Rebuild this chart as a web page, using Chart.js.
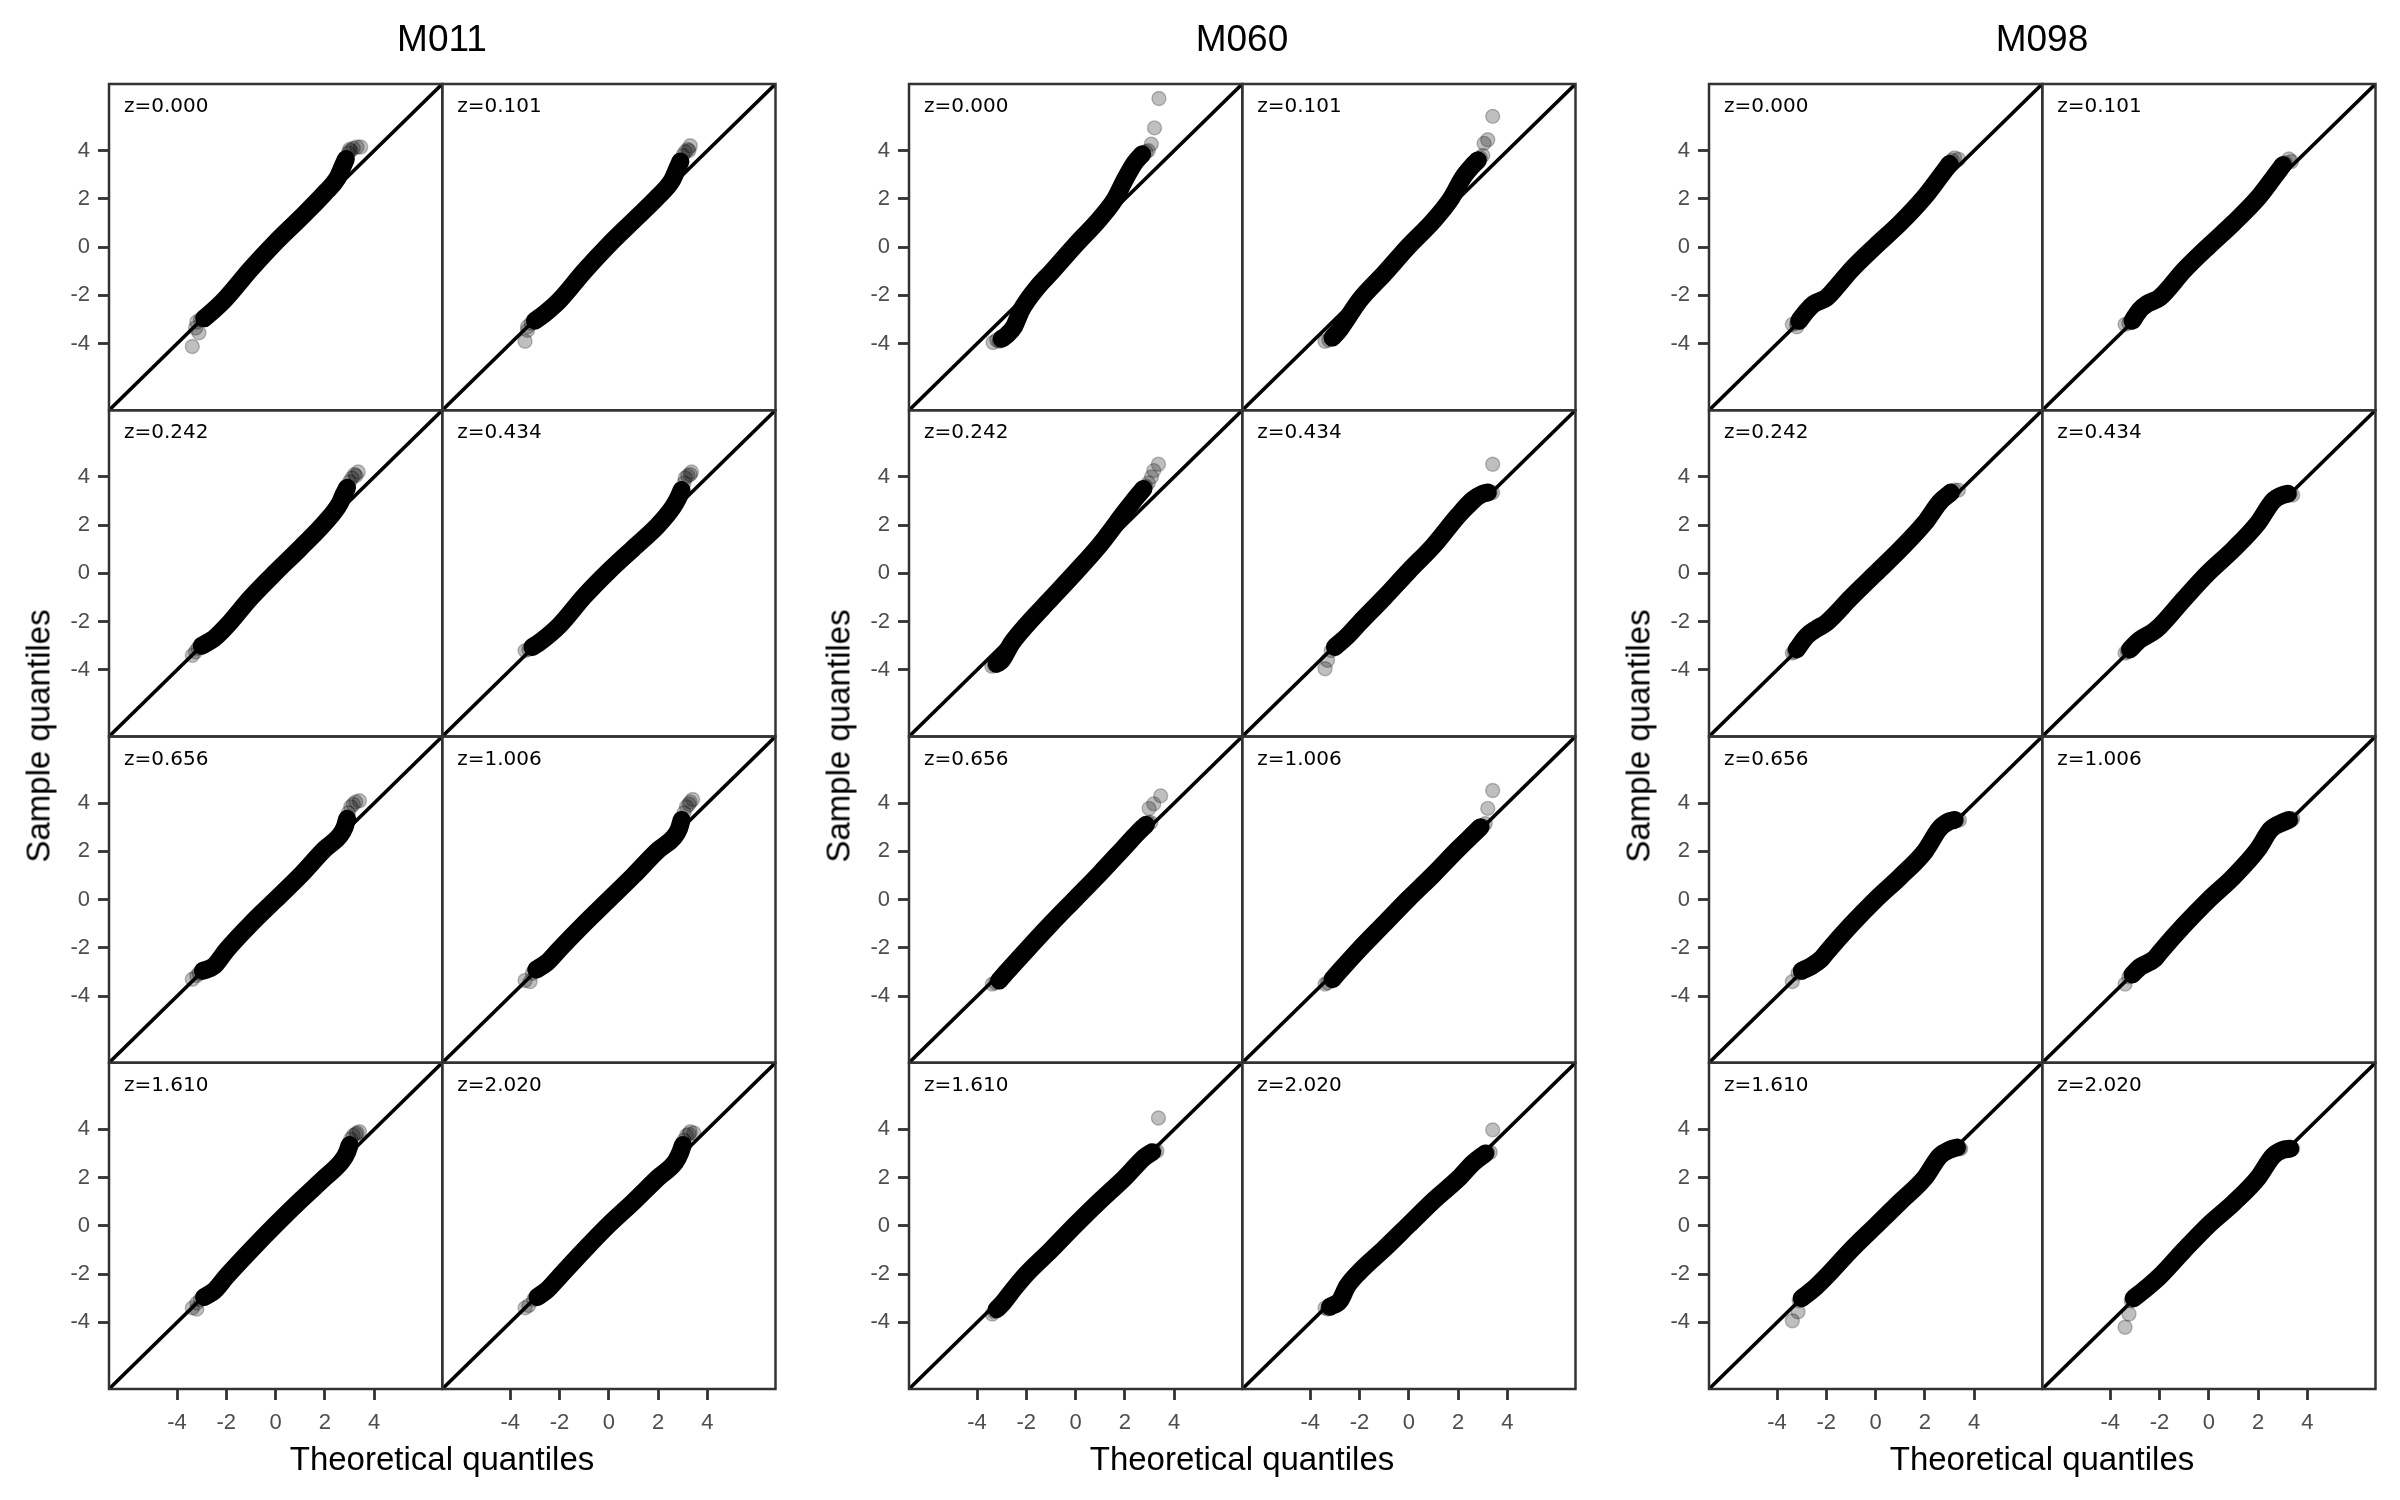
<!DOCTYPE html>
<html>
<head>
<meta charset="utf-8">
<script src="https://cdn.jsdelivr.net/npm/chart.js@4.4.1/dist/chart.umd.min.js"></script>
<style>
html, body { margin: 0; padding: 0; background: #ffffff; }
#wrap { position: relative; width: 2400px; height: 1500px; overflow: hidden; background: #ffffff; }
#wrap canvas { position: absolute; top: 0; }
.txt { position: absolute; white-space: nowrap; color: #000; line-height: 1; font-family: 'Liberation Sans', Arial, sans-serif; transform: translate(-50%, -50%); }
.rot { transform: translate(-50%, -50%) rotate(-90deg); }
</style>
</head>
<body>
<div id="wrap"></div>
<script>
// ---------------- data ----------------
const groupNames = ['M011', 'M060', 'M098'];
const zLabels = ['z=0.000', 'z=0.101', 'z=0.242', 'z=0.434', 'z=0.656', 'z=1.006', 'z=1.610', 'z=2.020'];
const tickValues = [-4, -2, 0, 2, 4];
const axisLimits = [-6.76, 6.76];
const refLine = [-6.76, 6.76];          // reference line y = x, end points
const xTitle = 'Theoretical quantiles';
const yTitle = 'Sample quantiles';

// dense part of each QQ cloud: [theoretical, sample] read along the middle of the band
const M011_body = [
  [[-2.9,-2.95],[-2.5,-2.6],[-2,-2.1],[-1,-0.9],[0,0.2],[1,1.2],[2,2.25],[2.5,2.85],[2.7,3.3],[2.85,3.65]],
  [[-3.0,-3.05],[-2.6,-2.75],[-2,-2.2],[-1,-1.0],[0,0.1],[1,1.1],[2,2.1],[2.55,2.75],[2.75,3.2],[2.9,3.55]],
  [[-3.0,-3.0],[-2.5,-2.7],[-2,-2.2],[-1,-1.0],[0,0.05],[1,1.05],[2,2.1],[2.6,2.9],[2.75,3.25],[2.9,3.55]],
  [[-3.1,-3.05],[-2.8,-2.85],[-2,-2.15],[-1,-0.95],[0,0.1],[1,1.05],[2,2.0],[2.6,2.75],[2.8,3.1],[2.95,3.45]],
  [[-2.95,-2.95],[-2.5,-2.75],[-2,-2.1],[-1,-1.0],[0,0.0],[1,1.0],[2,2.1],[2.6,2.65],[2.8,3.0],[2.9,3.35]],
  [[-2.95,-2.9],[-2.5,-2.6],[-2,-2.05],[-1,-1.0],[0,0.0],[1,1.0],[2,2.05],[2.65,2.6],[2.85,2.95],[2.95,3.3]],
  [[-2.9,-2.95],[-2.5,-2.7],[-2,-2.1],[-1,-1.0],[0,0.05],[1,1.05],[2,2.0],[2.7,2.7],[2.9,3.05],[3.0,3.35]],
  [[-2.9,-2.95],[-2.5,-2.65],[-2,-2.1],[-1,-1.0],[0,0.05],[1,1.0],[2,2.0],[2.7,2.65],[2.9,3.05],[3.0,3.35]]
];
const M060_body = [
  [[-3.0,-3.8],[-2.8,-3.65],[-2.5,-3.3],[-2.2,-2.6],[-1.5,-1.6],[-1,-1.05],[0,0.1],[1,1.2],[1.6,2.0],[2.0,2.8],[2.4,3.5],[2.7,3.85]],
  [[-3.1,-3.75],[-2.8,-3.4],[-2.5,-2.95],[-2,-2.2],[-1,-1.1],[0,0.05],[1,1.1],[1.7,2.0],[2.2,2.9],[2.6,3.4],[2.8,3.6]],
  [[-3.2,-3.75],[-3.0,-3.6],[-2.6,-2.9],[-2,-2.15],[-1,-1.05],[0,0.05],[1,1.2],[2,2.55],[2.5,3.2],[2.75,3.5]],
  [[-3.0,-3.05],[-2.5,-2.6],[-2,-2.05],[-1,-1.0],[0,0.1],[1,1.15],[2,2.4],[2.6,3.05],[3.0,3.3],[3.2,3.35]],
  [[-3.1,-3.35],[-2.8,-3.0],[-2,-2.1],[-1,-1.0],[0,0.05],[1,1.1],[2,2.2],[2.5,2.75],[2.85,3.1]],
  [[-3.1,-3.3],[-2.8,-2.95],[-2,-2.05],[-1,-1.0],[0,0.05],[1,1.05],[2,2.1],[2.5,2.6],[2.9,3.0]],
  [[-3.2,-3.45],[-3.0,-3.25],[-2.5,-2.6],[-2,-2.0],[-1,-1.0],[0,0.05],[1,1.05],[2,2.0],[2.8,2.85],[3.1,3.05]],
  [[-3.2,-3.35],[-2.8,-3.1],[-2.5,-2.5],[-2,-1.9],[-1,-0.95],[0,0.05],[1,1.05],[2,1.95],[2.6,2.6],[3.1,3.0]]
];
const M098_body = [
  [[-3.1,-3.05],[-2.8,-2.65],[-2.5,-2.35],[-2,-2.1],[-1.5,-1.55],[-1,-0.95],[0,0.05],[1,1.0],[2,2.1],[2.6,2.9],[3.0,3.45]],
  [[-3.1,-3.05],[-2.8,-2.6],[-2.5,-2.35],[-2,-2.1],[-1,-0.95],[0,0.05],[1,1.0],[2,2.05],[2.6,2.85],[3.0,3.4]],
  [[-3.2,-3.15],[-2.8,-2.6],[-2.4,-2.3],[-2,-2.05],[-1,-1.0],[0,0.0],[1,1.0],[2,2.1],[2.6,2.95],[3.05,3.35]],
  [[-3.2,-3.15],[-2.8,-2.75],[-2.3,-2.45],[-2,-2.2],[-1,-1.05],[0,0.05],[1,1.0],[2,2.1],[2.6,3.0],[3.0,3.25],[3.2,3.3]],
  [[-3.0,-2.95],[-2.6,-2.75],[-2.2,-2.45],[-2,-2.2],[-1,-1.05],[0,0.0],[1,0.95],[2,2.0],[2.6,2.95],[3.0,3.25],[3.2,3.3]],
  [[-3.1,-3.1],[-2.8,-2.8],[-2.2,-2.45],[-2,-2.2],[-1,-1.05],[0,0.0],[1,0.95],[2,2.1],[2.5,2.9],[3.0,3.2],[3.25,3.3]],
  [[-3.0,-3.0],[-2.5,-2.6],[-2,-2.1],[-1,-1.0],[0,0.0],[1,1.0],[2,2.0],[2.6,2.9],[3.0,3.15],[3.3,3.25]],
  [[-3.05,-3.0],[-2.5,-2.55],[-2,-2.1],[-1,-1.0],[0,0.05],[1,0.95],[2,2.0],[2.6,2.9],[3.0,3.15],[3.3,3.2]]
];

// sparser points at the ends of each cloud: [theoretical, sample]
const M011_tail = [
  [[-3.05,-3.0],[-3.2,-3.1],[-3.25,-3.35],[-3.11,-3.55],[-3.38,-4.12],[2.95,3.9],[3.0,4.05],[3.05,4.0],[3.15,4.1],[3.3,4.15],[3.45,4.15]],
  [[-3.15,-3.15],[-3.3,-3.3],[-3.3,-3.45],[-3.4,-3.9],[3.0,3.8],[3.1,3.95],[3.2,4.05],[3.25,4.0],[3.3,4.2]],
  [[-3.15,-3.1],[-3.25,-3.25],[-3.38,-3.4],[3.0,3.8],[3.1,3.95],[3.2,4.1],[3.25,4.05],[3.35,4.2]],
  [[-3.25,-3.15],[-3.4,-3.2],[3.05,3.75],[3.1,3.95],[3.2,4.05],[3.3,4.1],[3.35,4.2]],
  [[-3.1,-3.05],[-3.2,-3.15],[-3.38,-3.3],[2.95,3.6],[3.05,3.85],[3.15,3.95],[3.25,4.05],[3.4,4.1]],
  [[-3.1,-3.05],[-3.2,-3.4],[-3.4,-3.35],[3.05,3.6],[3.15,3.85],[3.25,3.95],[3.3,4.05],[3.4,4.15]],
  [[-3.05,-3.05],[-3.2,-3.2],[-3.2,-3.45],[-3.38,-3.4],[3.05,3.6],[3.15,3.75],[3.25,3.8],[3.3,3.85],[3.4,3.9]],
  [[-3.05,-3.05],[-3.25,-3.3],[-3.4,-3.4],[3.05,3.55],[3.15,3.75],[3.25,3.8],[3.3,3.9],[3.45,3.85]]
];
const M060_tail = [
  [[-3.1,-3.9],[-3.2,-3.85],[-3.35,-3.95],[2.85,3.95],[2.95,4.0],[3.07,4.27],[3.2,4.94],[3.38,6.16]],
  [[-3.25,-3.85],[-3.4,-3.9],[2.9,3.7],[3.0,3.8],[3.05,4.3],[3.2,4.45],[3.4,5.42]],
  [[-3.3,-3.8],[-3.4,-3.85],[2.85,3.6],[2.95,3.75],[3.08,4.0],[3.17,4.26],[3.36,4.52]],
  [[-3.15,-3.2],[-3.3,-3.6],[-3.4,-3.95],[3.3,3.35],[3.4,3.35],[3.4,4.52]],
  [[-3.25,-3.45],[-3.38,-3.5],[2.95,3.2],[3.05,3.2],[2.98,3.78],[3.17,3.97],[3.45,4.3]],
  [[-3.3,-3.45],[-3.4,-3.5],[3.0,3.05],[3.1,3.15],[3.2,3.78],[3.4,4.52]],
  [[-3.3,-3.55],[-3.38,-3.65],[3.2,3.1],[3.3,3.1],[3.36,4.47]],
  [[-3.3,-3.45],[-3.4,-3.4],[3.2,3.05],[3.3,3.05],[3.4,3.98]]
];
const M098_tail = [
  [[-3.2,-3.15],[-3.2,-3.3],[-3.38,-3.2],[3.1,3.6],[3.2,3.7],[3.36,3.64]],
  [[-3.25,-3.15],[-3.4,-3.2],[3.1,3.5],[3.25,3.65],[3.35,3.55]],
  [[-3.3,-3.25],[-3.38,-3.3],[3.2,3.45],[3.36,3.45]],
  [[-3.3,-3.25],[-3.4,-3.3],[3.3,3.3],[3.4,3.25]],
  [[-3.15,-3.05],[-3.38,-3.4],[3.3,3.3],[3.4,3.3]],
  [[-3.25,-3.2],[-3.4,-3.5],[3.35,3.3],[3.4,3.35]],
  [[-3.1,-3.1],[-3.15,-3.56],[-3.38,-3.93],[3.4,3.2],[3.45,3.2]],
  [[-3.15,-3.1],[-3.24,-3.65],[-3.4,-4.2],[3.4,3.2]]
];

const bodies = [M011_body, M060_body, M098_body];
const tails = [M011_tail, M060_tail, M098_tail];

// ---------------- layout / style ----------------
const GROUP_W = 800, CANVAS_H = 1500;
const FONT = "'Liberation Sans', Arial, sans-serif";
const ROWS = 4, COLS = 2;

const toXY = arr => arr.map(p => ({ x: p[0], y: p[1] }));

const panelPlugin = {
  id: 'panelDecor',
  afterDatasetsDraw(chart) {
    const ctx = chart.ctx;
    ctx.save();
    for (let r = 0; r < ROWS; r++) {
      for (let c = 0; c < COLS; c++) {
        const xs = chart.scales['x' + c], ys = chart.scales['y' + r];
        ctx.strokeStyle = '#333333';
        ctx.lineWidth = 2.5;
        ctx.strokeRect(xs.left, ys.top, xs.right - xs.left, ys.bottom - ys.top);
        ctx.fillStyle = '#000000';
        ctx.font = "20px 'DejaVu Sans', sans-serif";
        ctx.textBaseline = 'middle';
        ctx.textAlign = 'left';
        ctx.fillText(zLabels[r * COLS + c], xs.left + 15, ys.top + 23);
      }
    }
    ctx.restore();
  }
};

function axisCommon() {
  return {
    type: 'linear',
    min: axisLimits[0],
    max: axisLimits[1],
    afterBuildTicks: s => { s.ticks = tickValues.map(v => ({ value: v })); },
    grid: { display: true, drawOnChartArea: false, drawTicks: true, tickLength: 11, tickWidth: 2.8, tickColor: '#333333', color: '#333333' },
    border: { display: false },
    ticks: { color: '#4d4d4d', font: { family: FONT, size: 22 }, autoSkip: false, maxRotation: 0, minRotation: 0 }
  };
}

const wrap = document.getElementById('wrap');

groupNames.forEach((name, g) => {
  const cv = document.createElement('canvas');
  cv.width = GROUP_W; cv.height = CANVAS_H;
  cv.style.left = (g * GROUP_W) + 'px';
  cv.style.width = GROUP_W + 'px'; cv.style.height = CANVAS_H + 'px';
  wrap.appendChild(cv);

  const scales = {};
  for (let c = 0; c < COLS; c++) {
    const a = axisCommon();
    a.position = 'bottom'; a.stack = 'cols'; a.stackWeight = 1; a.weight = 0;
    a.afterFit = s => { s.height = 50; };
    a.ticks.padding = 10;
    scales['x' + c] = a;
  }
  for (let r = 0; r < ROWS; r++) {
    const a = axisCommon();
    a.position = 'left'; a.stack = 'rows'; a.stackWeight = 1; a.weight = ROWS - r;
    a.afterFit = s => { s.width = 50; };
    a.ticks.padding = 8;
    scales['y' + r] = a;
  }

  const datasets = [];
  for (let r = 0; r < ROWS; r++) {
    for (let c = 0; c < COLS; c++) {
      const p = r * COLS + c;
      const xa = 'x' + c, ya = 'y' + r;
      datasets.push({
        type: 'line', order: 0, xAxisID: xa, yAxisID: ya,
        data: [{ x: refLine[0], y: refLine[0] }, { x: refLine[1], y: refLine[1] }],
        borderColor: '#000000', borderWidth: 3.6, pointRadius: 0, fill: false, tension: 0
      });
      datasets.push({
        type: 'scatter', order: 1, xAxisID: xa, yAxisID: ya,
        data: toXY(tails[g][p]),
        pointRadius: 7, pointBorderWidth: 1.4,
        backgroundColor: 'rgba(0,0,0,0.25)', borderColor: 'rgba(0,0,0,0.25)',
        pointBackgroundColor: 'rgba(0,0,0,0.25)', pointBorderColor: 'rgba(0,0,0,0.25)'
      });
      datasets.push({
        type: 'line', order: 2, xAxisID: xa, yAxisID: ya,
        data: toXY(bodies[g][p]),
        borderColor: '#000000', borderWidth: 18, pointRadius: 0, fill: false,
        cubicInterpolationMode: 'monotone', borderCapStyle: 'round', borderJoinStyle: 'round'
      });
    }
  }

  new Chart(cv, {
    type: 'scatter',
    data: { datasets },
    options: {
      responsive: false, animation: false, devicePixelRatio: 1, events: [],
      layout: { padding: { left: 59, right: 24.5, top: 84, bottom: 61 } },
      plugins: { legend: { display: false }, tooltip: { enabled: false }, title: { display: false } },
      scales
    },
    plugins: [panelPlugin]
  });

  const cx = g * GROUP_W + 442;
  const t = document.createElement('div');
  t.className = 'txt'; t.textContent = name;
  t.style.left = cx + 'px'; t.style.top = '38px'; t.style.fontSize = '37px';
  wrap.appendChild(t);

  const xt = document.createElement('div');
  xt.className = 'txt'; xt.textContent = xTitle;
  xt.style.left = cx + 'px'; xt.style.top = '1458px'; xt.style.fontSize = '33px';
  wrap.appendChild(xt);

  const yt = document.createElement('div');
  yt.className = 'txt rot'; yt.textContent = yTitle;
  yt.style.left = (g * GROUP_W + 38) + 'px'; yt.style.top = '736px'; yt.style.fontSize = '33px';
  wrap.appendChild(yt);
});
</script>
</body>
</html>
